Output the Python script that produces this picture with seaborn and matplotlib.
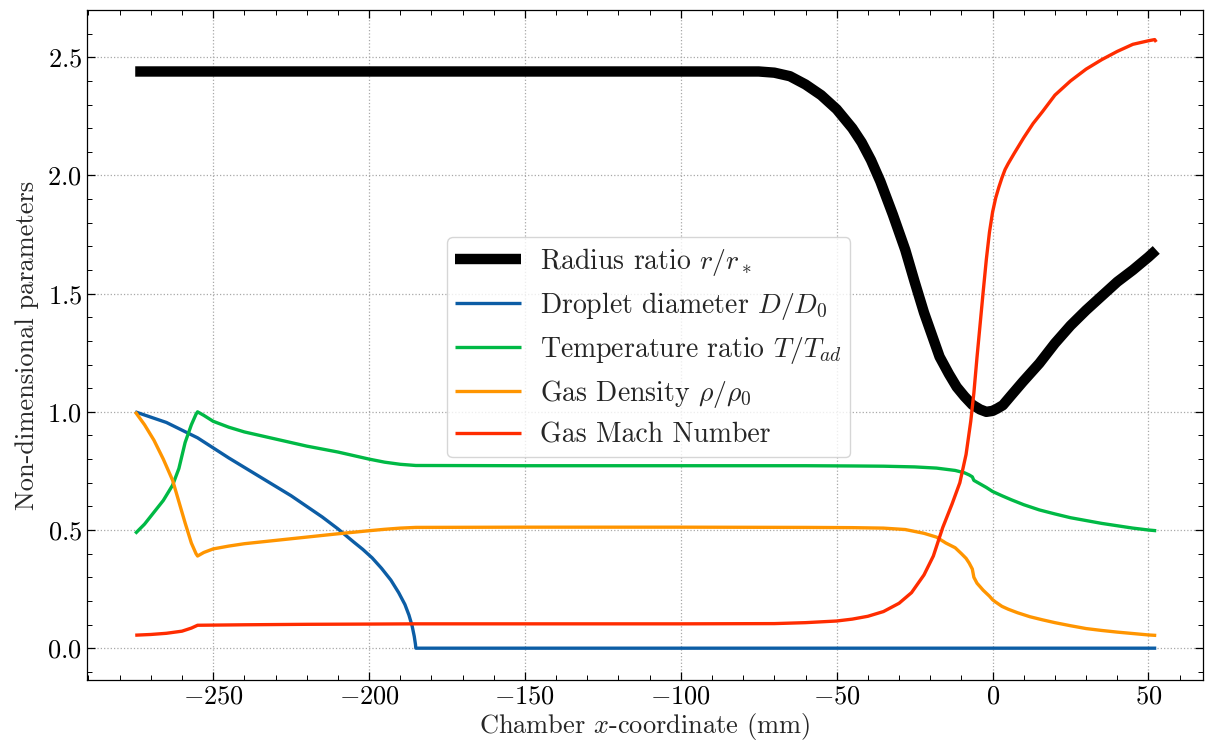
import numpy as np
import pandas as pd
import matplotlib
matplotlib.use("Agg")
import matplotlib.pyplot as plt
import seaborn as sns

# ---- data ----
radius_x = [-275, -75, -70, -65, -60, -55, -50, -45, -42, -39, -36, -32, -28, -25, -22, -20, -17, -14, -11.5, -9, -6.5, -4, -2, 0,
            1.5, 3.3, 6, 9.7, 15, 20, 25, 30, 35, 40, 45, 50, 52.5]
radius_y = [2.44, 2.44, 2.435, 2.42, 2.385, 2.34, 2.28, 2.20, 2.14, 2.065, 1.975, 1.835, 1.685, 1.55, 1.42, 1.345, 1.233, 1.16, 1.105, 1.065, 1.03, 1.01, 1.0, 1.004,
            1.014, 1.028, 1.07, 1.127, 1.205, 1.29, 1.365, 1.43, 1.49, 1.55, 1.60, 1.655, 1.685]

drop_x = [-275, -265, -255, -245, -235, -225, -215, -210, -205, -202, -199, -196, -193, -190.5, -188.5, -187.2, -186.2, -185.5,
          -185.1, -185, 52.5]
drop_y = [1.0, 0.955, 0.89, 0.805, 0.725, 0.645, 0.555, 0.505, 0.45, 0.418, 0.382, 0.338, 0.288, 0.235, 0.185, 0.14, 0.095, 0.05,
          0.015, 0.0, 0.0]

temp_x = [-275, -272, -269, -266, -263, -261, -259, -257, -255.5, -255, -253, -250, -245, -240, -230, -220, -210, -200,
          -195, -190, -185, -150, -100, -60, -45, -35, -25, -18, -12, -9, -7.5, -6.5, -6, -4, -2, 0, 3, 6, 10, 15,
          20, 25, 30, 35, 40, 45, 50, 52.5]
temp_y = [0.485, 0.525, 0.575, 0.625, 0.69, 0.76, 0.87, 0.945, 0.99, 1.0, 0.985, 0.96, 0.935, 0.915, 0.885, 0.855, 0.83, 0.80,
          0.787, 0.778, 0.773, 0.772, 0.772, 0.772, 0.771, 0.770, 0.767, 0.762, 0.752, 0.742, 0.733, 0.725, 0.71, 0.695, 0.68, 0.663, 0.645, 0.628, 0.607, 0.585,
          0.568, 0.552, 0.54, 0.528, 0.518, 0.508, 0.50, 0.497]

dens_x = [-275, -272, -269, -266, -263, -260, -259, -257, -255.5, -255, -253, -250, -245, -240, -230, -220, -210, -200,
          -195, -190, -185, -150, -100, -60, -45, -35, -28, -22, -18, -15, -12, -10, -8.5, -7.5, -6.5, -6, -5, -3, -1,
          0, 1, 3, 5, 8, 12, 16, 20, 25, 30, 35, 40, 45, 50, 52.5]
dens_y = [1.0, 0.945, 0.88, 0.80, 0.71, 0.575, 0.53, 0.445, 0.40, 0.39, 0.405, 0.42, 0.432, 0.442, 0.456, 0.47, 0.484, 0.497,
          0.503, 0.508, 0.511, 0.512, 0.512, 0.511, 0.510, 0.508, 0.502, 0.486, 0.47, 0.445, 0.425, 0.40, 0.38, 0.36, 0.335, 0.30, 0.275, 0.245, 0.22,
          0.205, 0.195, 0.177, 0.165, 0.15, 0.133, 0.12, 0.108, 0.095, 0.083, 0.075, 0.068, 0.062, 0.056, 0.054]

mach_x = [-275, -270, -265, -260, -257, -255, -240, -220, -200, -185, -150, -100, -70, -60, -50, -45, -40, -35, -30, -26,
          -22, -19, -16, -13, -10.5, -8.5, -7, -6, -5, -4, -3, -2, -1, 0, 1, 2, 3, 4, 5, 7, 10, 13, 16, 20, 25, 30, 35,
          40, 45, 50, 52, 52.5]
mach_y = [0.055, 0.058, 0.063, 0.072, 0.085, 0.097, 0.099, 0.101, 0.102, 0.103, 0.103, 0.103, 0.104, 0.108, 0.115, 0.123, 0.135, 0.155, 0.19, 0.235,
          0.31, 0.39, 0.51, 0.61, 0.70, 0.82, 0.96, 1.08, 1.23, 1.37, 1.51, 1.645, 1.76, 1.845, 1.905, 1.95, 1.99, 2.025, 2.05, 2.095, 2.16, 2.22, 2.27, 2.34, 2.40, 2.45, 2.49,
          2.525, 2.555, 2.57, 2.575, 2.565]

labels = [r"Radius ratio $r/r_*$", r"Droplet diameter $D/D_0$", r"Temperature ratio $T/T_{ad}$",
          r"Gas Density $\rho/\rho_0$", "Gas Mach Number"]
colors = ["black", "#0C5DA5", "#00B945", "#FF9500", "#FF2C00"]

# ---- style ----
sns.set_style("ticks")
plt.rcParams.update({
    "font.family": ["cmr10"],
    "mathtext.fontset": "cm",
    "axes.formatter.use_mathtext": True,
    "axes.unicode_minus": True,
    "font.size": 19,
    "axes.linewidth": 0.9,
    "xtick.direction": "in",
    "ytick.direction": "in",
    "xtick.top": True,
    "ytick.right": True,
    "xtick.minor.visible": True,
    "ytick.minor.visible": True,
    "xtick.major.size": 6,
    "ytick.major.size": 6,
    "xtick.minor.size": 3.5,
    "ytick.minor.size": 3.5,
    "xtick.major.width": 0.9,
    "ytick.major.width": 0.9,
    "xtick.minor.width": 0.7,
    "ytick.minor.width": 0.7,
    "xtick.color": "black",
    "ytick.color": "black",
    "axes.edgecolor": "black",
    "lines.solid_capstyle": "butt",
})

fig, ax = plt.subplots(figsize=(12.07, 7.49), dpi=100)
fig.subplots_adjust(left=0.072, right=0.9967, top=0.9866, bottom=0.092)

series = [(radius_x, radius_y), (drop_x, drop_y), (temp_x, temp_y), (dens_x, dens_y), (mach_x, mach_y)]
widths = [7.5, 2.4, 2.4, 2.4, 2.4]
for (xs, ys), lab, col, lw in zip(series, labels, colors, widths):
    df = pd.DataFrame({"x": xs, "y": ys})
    sns.lineplot(data=df, x="x", y="y", ax=ax, color=col, linewidth=lw, label=lab,
                 sort=False, estimator=None, solid_capstyle="butt")

ax.set_xlim(-290.5, 67.5)
ax.set_ylim(-0.135, 2.70)
ax.set_xticks([-250, -200, -150, -100, -50, 0, 50])
ax.set_yticks([0.0, 0.5, 1.0, 1.5, 2.0, 2.5])
ax.grid(True, which="major", linestyle=":", color="#a8a8a8", linewidth=0.9)
ax.set_xlabel(r"Chamber $x$-coordinate (mm)", fontsize=19, labelpad=2)
ax.set_ylabel("Non-dimensional parameters", fontsize=19, labelpad=6)
ax.tick_params(labelsize=19)

leg = ax.legend(loc="upper left", bbox_to_anchor=(0.3226, 0.661), borderaxespad=0,
                fontsize=20, frameon=True, fancybox=True, handlelength=2.35,
                handletextpad=0.7, borderpad=0.3, labelspacing=0.45)
leg.get_frame().set_edgecolor("#cccccc")

fig.savefig("out.png", dpi=100)
